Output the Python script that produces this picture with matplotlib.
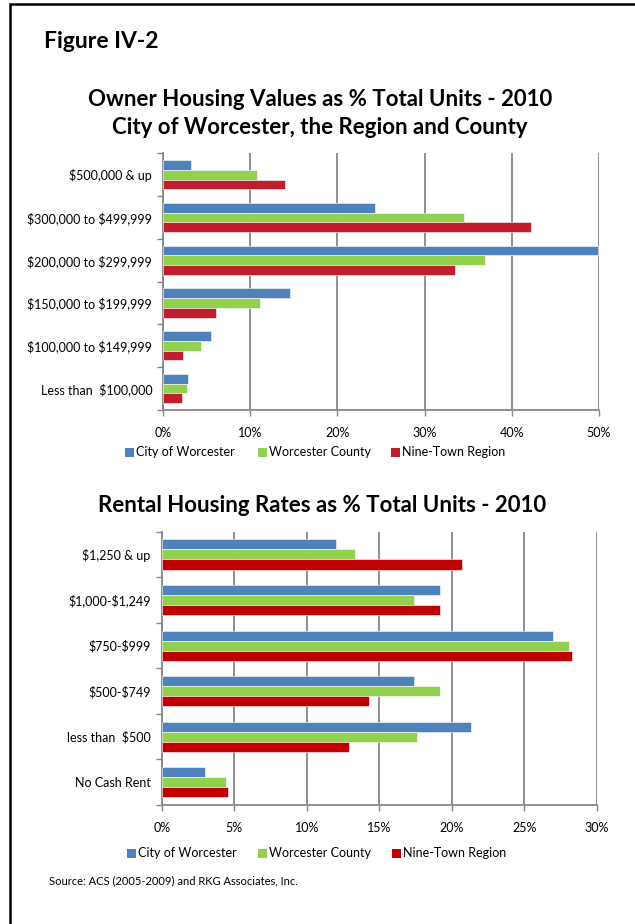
import numpy as np
import matplotlib
matplotlib.use("Agg")
import matplotlib.pyplot as plt
from matplotlib.patches import Rectangle
from matplotlib.ticker import FuncFormatter

plt.rcParams['font.family'] = ['Lato', 'DejaVu Sans']
plt.rcParams['text.parse_math'] = False

series = ["City of Worcester", "Worcester County", "Nine-Town Region"]

# owner-occupied housing values, % of total units
owner_cats = ["$500,000 & up", "$300,000 to $499,999", "$200,000 to $299,999",
              "$150,000 to $199,999", "$100,000 to $149,999", "Less than  $100,000"]
owner_city = [3.2, 24.3, 49.9, 14.5, 5.5, 2.8]
owner_county = [10.8, 34.5, 36.9, 11.1, 4.3, 2.7]
owner_region = [14.0, 42.2, 33.5, 6.1, 2.3, 2.1]

# rental housing rates, % of total units
rent_cats = ["$1,250 & up", "$1,000-$1,249", "$750-$999", "$500-$749",
             "less than  $500", "No Cash Rent"]
rent_city = [12.0, 19.2, 27.0, 17.4, 21.3, 3.0]
rent_county = [13.3, 17.4, 28.1, 19.2, 17.6, 4.4]
rent_region = [20.7, 19.2, 28.3, 14.3, 12.9, 4.6]

BLUE = "#4F81BD"
GREEN = "#92D050"
GRID = "#878787"

W, H = 635, 924
fig = plt.figure(figsize=(W / 100, H / 100), dpi=100)


def px_axes(left, top, right, bottom):
    return fig.add_axes([left / W, 1 - bottom / H, (right - left) / W, (bottom - top) / H])


def bar_panel(ax, cats, vals, colors, xmax, step, bar_h):
    y = np.arange(len(cats))
    offsets = [-bar_h, 0, bar_h]
    for v, c, off in zip(vals, colors, offsets):
        ax.barh(y + off, v, height=bar_h, color=c, edgecolor="white",
                linewidth=0.4, zorder=3)
    ax.set_ylim(len(cats) - 0.5, -0.5)
    ax.set_xlim(0, xmax)
    ax.set_yticks(y)
    ax.set_yticklabels(cats, fontsize=9)
    ax.set_yticks(np.arange(len(cats) + 1) - 0.5, minor=True)
    ax.tick_params(axis="y", which="major", length=0, pad=8)
    ax.tick_params(axis="y", which="minor", length=4, width=1, color=GRID, direction="out")
    ax.set_xticks(np.arange(0, xmax + 0.01, step))
    ax.xaxis.set_major_formatter(FuncFormatter(lambda v, p: f"{v:.0f}%"))
    ax.tick_params(axis="x", length=4, width=1, color=GRID, labelsize=9, pad=8)
    ax.grid(axis="x", color=GRID, linewidth=1.3, zorder=0)
    for s in ["top", "right"]:
        ax.spines[s].set_visible(False)
    for s in ["left", "bottom"]:
        ax.spines[s].set_color(GRID)
        ax.spines[s].set_linewidth(1.3)


def legend_row(y, xs, colors):
    for x, c, name in zip(xs, colors, series):
        fig.patches.append(Rectangle((x / W, 1 - (y + 4.5) / H), 9 / W, 9 / H,
                                     transform=fig.transFigure, facecolor=c,
                                     edgecolor="none"))
        fig.text((x + 11) / W, 1 - y / H, name, fontsize=9, va="center", ha="left")


# outer frame
frame = Rectangle((9.5 / W, -0.01), 1.0, 1 - 3.5 / H + 0.01, transform=fig.transFigure,
                  fill=False, edgecolor="black", linewidth=1.8, clip_on=False)
fig.patches.append(frame)

fig.text(44 / W, 1 - 42 / H, "Figure IV-2", fontsize=16.5, fontweight="bold",
         va="center", ha="left")

# owner values chart
fig.text(320 / W, 1 - 100 / H, "Owner Housing Values as % Total Units - 2010",
         fontsize=16, fontweight="bold", va="center", ha="center")
fig.text(320 / W, 1 - 128 / H, "City of Worcester, the Region and County",
         fontsize=16, fontweight="bold", va="center", ha="center")
ax1 = px_axes(163.3, 153.3, 598.7, 410)
bar_panel(ax1, owner_cats, [owner_city, owner_county, owner_region],
          [BLUE, GREEN, "#BE1E2D"], 50, 10, 0.227)
legend_row(452, [125, 258, 391], [BLUE, GREEN, "#BE1E2D"])

# rental rates chart
fig.text(322 / W, 1 - 506 / H, "Rental Housing Rates as % Total Units - 2010",
         fontsize=16, fontweight="bold", va="center", ha="center")
ax2 = px_axes(161.7, 531.7, 596.7, 805)
bar_panel(ax2, rent_cats, [rent_city, rent_county, rent_region],
          [BLUE, GREEN, "#C00000"], 30, 5, 0.22)
legend_row(853, [127, 258, 392], [BLUE, GREEN, "#C00000"])

fig.text(49 / W, 1 - 881 / H, "Source: ACS (2005-2009) and RKG Associates, Inc.",
         fontsize=8, va="center", ha="left")

fig.savefig("out.png", dpi=100, facecolor="white")
